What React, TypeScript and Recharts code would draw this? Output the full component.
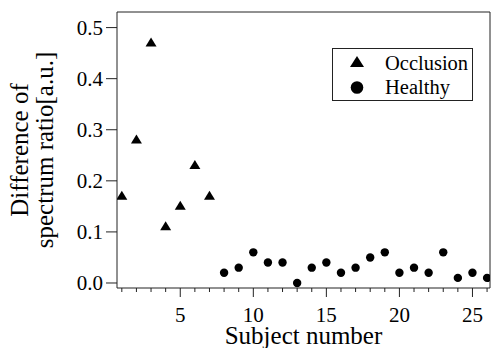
import React from 'react';
import { ScatterChart, Scatter, XAxis, YAxis, ReferenceLine } from 'recharts';

const OCC_X = [1, 2, 3, 4, 5, 6, 7];
const OCC_Y = [0.17, 0.28, 0.47, 0.11, 0.15, 0.23, 0.17];
const HEALTHY_X = [8, 9, 10, 11, 12, 13, 14, 15, 16, 17, 18, 19, 20, 21, 22, 23, 24, 25, 26];
const HEALTHY_Y = [0.02, 0.03, 0.06, 0.04, 0.04, 0.0, 0.03, 0.04, 0.02, 0.03, 0.05, 0.06, 0.02, 0.03, 0.02, 0.06, 0.01, 0.02, 0.01];
const X_TICKS = Array.from({ length: 26 }, (_, i) => i + 1);
const Y_TICKS = [0, 0.1, 0.2, 0.3, 0.4, 0.5];
const X_DOMAIN: [number, number] = [0.67, 26.2];
const Y_DOMAIN: [number, number] = [-0.0098, 0.5305];
const SERIES_NAMES = ['Occlusion', 'Healthy'];

const occData = OCC_X.map((x, i) => ({ x, y: OCC_Y[i] }));
const healthyData = HEALTHY_X.map((x, i) => ({ x, y: HEALTHY_Y[i] }));

const FONT = '"Liberation Serif", "Times New Roman", serif';
const AX = '#222';

const Triangle = (props: any) => {
  const { cx, cy } = props;
  if (cx == null || cy == null) return null;
  return <polygon points={`${cx},${cy - 5.5} ${cx - 5.5},${cy + 3.5} ${cx + 5.5},${cy + 3.5}`} fill="#000" />;
};
const Dot = (props: any) => {
  const { cx, cy } = props;
  if (cx == null || cy == null) return null;
  return <circle cx={cx} cy={cy} r={4.2} fill="#000" />;
};

const XTick = (props: any) => {
  const { x, y, payload } = props;
  const major = payload.value % 5 === 0;
  return (
    <g>
      <line x1={x} x2={x} y1={y} y2={y + (major ? 9 : 4)} stroke={AX} strokeWidth={1} />
      {major && (
        <text x={x} y={y + 34} textAnchor="middle" fontFamily={FONT} fontSize={21} fill="#000">
          {payload.value}
        </text>
      )}
    </g>
  );
};

const YTick = (props: any) => {
  const { x, y, payload } = props;
  return (
    <text x={x} y={y + 7} textAnchor="end" fontFamily={FONT} fontSize={21} fill="#000">
      {Number(payload.value).toFixed(1)}
    </text>
  );
};

const YLabel = (props: any) => {
  const vb = props.viewBox || {};
  const cy = vb.y + vb.height / 2;
  const x1 = vb.x + 28;
  const x2 = vb.x + 53;
  return (
    <g fontFamily={FONT} fontSize={25} fill="#000">
      <text x={x1} y={cy} textAnchor="middle" transform={`rotate(-90 ${x1} ${cy})`}>Difference of</text>
      <text x={x2} y={cy} textAnchor="middle" transform={`rotate(-90 ${x2} ${cy})`}>spectrum ratio[a.u.]</text>
    </g>
  );
};

const XLabel = (props: any) => {
  const vb = props.viewBox || {};
  return (
    <text x={vb.x + vb.width / 2} y={vb.y + 56} textAnchor="middle" fontFamily={FONT} fontSize={25} fill="#000">
      Subject number
    </text>
  );
};

const LegendBox = () => (
  <svg width={491} height={348} style={{ position: 'absolute', left: 0, top: 0, pointerEvents: 'none' }}>
    <rect x={332.5} y={48.5} width={140} height={52} fill="#fff" stroke={AX} strokeWidth={1} />
    <polygon points="357,56 350,67 364,67" fill="#000" />
    <circle cx={357} cy={87.5} r={6.3} fill="#000" />
    <text x={385} y={69.5} fontFamily={FONT} fontSize={20.5} fill="#000">{SERIES_NAMES[0]}</text>
    <text x={385} y={94} fontFamily={FONT} fontSize={20.5} fill="#000">{SERIES_NAMES[1]}</text>
  </svg>
);

export default function App() {
  return (
    <div style={{ position: 'absolute', left: 0, top: 0, width: 491, height: 348, background: '#fff' }}>
      <ScatterChart width={491} height={348} margin={{ top: 12, right: 1, left: 0, bottom: 0 }}>
        <XAxis
          type="number"
          dataKey="x"
          domain={X_DOMAIN}
          ticks={X_TICKS}
          interval={0}
          allowDataOverflow
          height={60}
          tickSize={0}
          tickMargin={0}
          tickLine={false}
          tick={<XTick />}
          axisLine={{ stroke: AX, strokeWidth: 1 }}
          label={<XLabel />}
        />
        <YAxis
          type="number"
          dataKey="y"
          domain={Y_DOMAIN}
          ticks={Y_TICKS}
          interval={0}
          allowDataOverflow
          width={117}
          tickSize={11}
          tickMargin={3}
          tickLine={{ stroke: AX, strokeWidth: 1 }}
          axisLine={{ stroke: AX, strokeWidth: 1 }}
          tick={<YTick />}
          label={<YLabel />}
        />
        <ReferenceLine y={Y_DOMAIN[1]} stroke={AX} strokeWidth={1} />
        <ReferenceLine x={X_DOMAIN[1]} stroke={AX} strokeWidth={1} />
        <Scatter name={SERIES_NAMES[0]} data={occData} shape={<Triangle />} isAnimationActive={false} />
        <Scatter name={SERIES_NAMES[1]} data={healthyData} shape={<Dot />} isAnimationActive={false} />
      </ScatterChart>
      <LegendBox />
    </div>
  );
}
